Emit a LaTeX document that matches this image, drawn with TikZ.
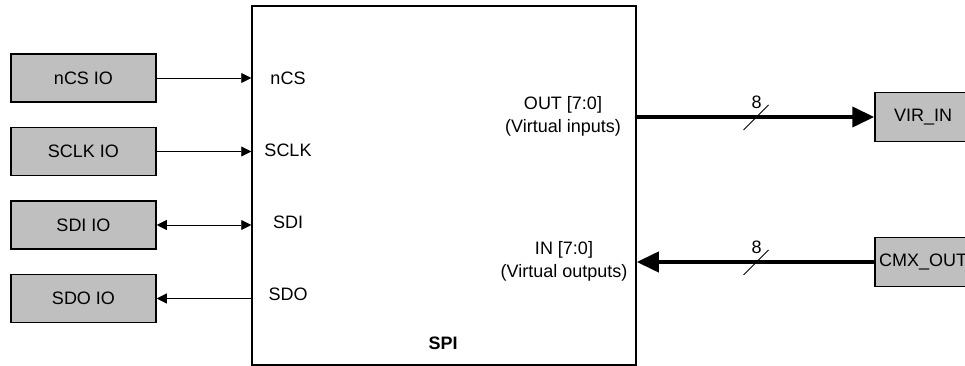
\documentclass[tikz,border=0pt]{standalone}
\usepackage{fontspec}
\setmainfont{Liberation Sans}
\usetikzlibrary{arrows.meta,positioning,calc}

\begin{document}
\begin{tikzpicture}[x=1pt,y=1pt,
  node distance=24pt,
  font=\fontsize{18}{23}\selectfont,
  iobox/.style={draw,line width=1.5pt,fill=black!25,minimum width=145pt,
                minimum height=48pt,inner sep=2pt},
  virbox/.style={iobox,minimum width=96pt,minimum height=49pt},
  pinlbl/.style={align=center,inner sep=0pt},
  sig/.style={line width=0.8pt},
  bus/.style={line width=4pt},
  >={Triangle[length=10pt,width=10pt]}]
\clip (0,0) rectangle (965,366);
\node[draw,line width=1.5pt,minimum width=384pt,minimum height=359pt] (spi) at (444,180.5) {};
\node[font=\fontsize{18}{23}\selectfont\bfseries] (spilbl) at (443,23) {SPI};
% left side IO blocks
\node[iobox] (ncsio) at (83.5,288) {nCS IO};
\node[iobox,below=of ncsio]  (sclkio) {SCLK IO};
\node[iobox,below=of sclkio] (sdiio)  {SDI IO};
\node[iobox,below=of sdiio]  (sdoio)  {SDO IO};
\node[pinlbl] (ncs)  at (288,288) {nCS};
\node[pinlbl] (sclk) at (288,216) {SCLK};
\node[pinlbl] (sdi)  at (288,144) {SDI};
\node[pinlbl] (sdo)  at (288,72)  {SDO};
% virtual ports
\node[pinlbl] (out) at (563,249.5) {OUT [7:0]\\(Virtual inputs)};
\node[pinlbl] (in)  at (564,105)   {IN [7:0]\\(Virtual outputs)};
\node[virbox] (virin)  at (923,249) {VIR\_IN};
\node[virbox] (cmxout) at (923,104) {CMX\_OUT};
\draw[sig,->] (ncsio.east) -- (ncsio.east -| spi.west);
\draw[sig,->] (sclkio.east) -- (sclkio.east -| spi.west);
\draw[sig,<->] (sdiio.east) -- (sdiio.east -| spi.west);
\draw[sig,->] (sdoio.east -| spi.west) -- (sdoio.east);
\draw[bus,line cap=round,-{Triangle[length=22pt,width=20pt]}]
  (spi.east |- virin.west) -- coordinate[midway] (m1) (virin.west);
\draw[bus,-{Triangle[length=22pt,width=20pt]}]
  (cmxout.west) -- coordinate[midway] (m2) (spi.east |- cmxout.west);
\draw[sig] ($(m1)+(-12,-13)$) -- ($(m1)+(13,12)$);
\draw[sig] ($(m2)+(-12,-13)$) -- ($(m2)+(13,12)$);
\node (w1) at ($(m1)+(1,15)$) {8};
\node (w2) at ($(m2)+(1,15)$) {8};
\end{tikzpicture}
\end{document}
